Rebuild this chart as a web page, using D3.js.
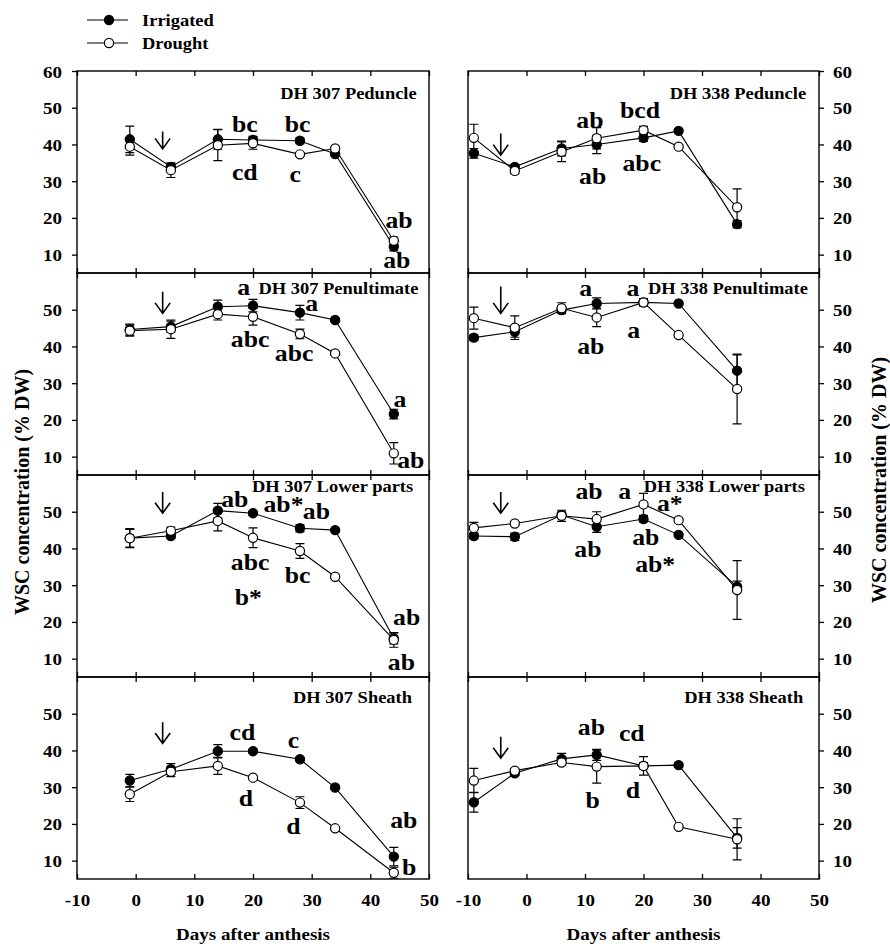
<!DOCTYPE html>
<html><head><meta charset="utf-8">
<script src="https://cdn.jsdelivr.net/npm/d3@7"></script>
<style>
html,body{margin:0;padding:0;background:#fff;}
svg{display:block;}
text{font-family:"Liberation Serif","Times New Roman",serif;font-weight:bold;fill:#000;}
</style></head>
<body><svg id="chart" width="890" height="946"></svg>
<script>
// ---------------- DATA ----------------
const days307 = [-1, 6, 14, 20, 28, 34, 44];
const days338 = [-9, -2, 6, 12, 20, 26, 36];
const xTicks = [-10, 0, 10, 20, 30, 40, 50];
const yTicksTop = [10, 20, 30, 40, 50, 60];
const yTicksOther = [10, 20, 30, 40, 50];
const seriesNames = ["Irrigated", "Drought"];
const panelTitles = ["DH 307 Peduncle", "DH 307 Penultimate", "DH 307 Lower parts", "DH 307 Sheath",
                     "DH 338 Peduncle", "DH 338 Penultimate", "DH 338 Lower parts", "DH 338 Sheath"];
const titleAnchors = [[47.9, 52.4], [48.2, 54.3], [47.3, 55.3], [47.1, 52.9],
                      [47.8, 52.4], [48.1, 54.3], [47.6, 55.3], [47.3, 52.9]];

// DH 307
const irr307Peduncle = [41.4, 33.9, 41.4, 41.2, 41.0, 37.4, 12.2];
const irr307PeduncleErr = [3.6, 0.8, 2.7, 1.0, 0.8, 0.5, 1.2];
const dro307Peduncle = [39.4, 33.0, 39.8, 40.3, 37.3, 38.9, 13.8];
const dro307PeduncleErr = [2.3, 2.0, 4.2, 1.6, 0.5, 0.5, 1.0];

const irr307Penult = [44.6, 45.4, 50.8, 51.1, 49.2, 47.2, 21.6];
const irr307PenultErr = [1.5, 1.5, 1.8, 1.7, 2.0, 0.5, 1.3];
const dro307Penult = [44.3, 44.7, 48.8, 48.1, 43.4, 38.1, 10.9];
const dro307PenultErr = [1.5, 2.5, 1.6, 2.3, 1.3, 0.5, 2.9];

const irr307Lower = [42.8, 43.4, 50.3, 49.6, 45.5, 45.0, 15.5];
const irr307LowerErr = [2.6, 0.7, 2.0, 0.5, 1.0, 0.5, 1.5];
const dro307Lower = [42.8, 44.8, 47.5, 42.9, 39.3, 32.3, 15.1];
const dro307LowerErr = [2.4, 1.0, 2.7, 2.7, 2.0, 0.5, 2.0];

const irr307Sheath = [31.8, 34.9, 39.8, 39.8, 37.6, 29.9, 11.1];
const irr307SheathErr = [1.7, 1.5, 1.8, 0.5, 0.5, 0.5, 2.5];
const dro307Sheath = [28.1, 34.2, 35.8, 32.6, 25.8, 18.8, 6.7];
const dro307SheathErr = [2.0, 1.3, 2.3, 0.5, 1.6, 0.5, 1.5];

// DH 338
const irr338Peduncle = [37.6, 33.9, 38.9, 40.0, 41.8, 43.7, 18.3];
const irr338PeduncleErr = [1.3, 0.5, 2.0, 2.5, 1.0, 0.5, 1.0];
const dro338Peduncle = [41.8, 32.8, 38.0, 41.7, 43.9, 39.4, 22.9];
const dro338PeduncleErr = [3.7, 0.8, 2.7, 2.9, 1.0, 0.5, 5.0];

const irr338Penult = [42.4, 44.0, 49.9, 51.7, 52.0, 51.7, 33.4];
const irr338PenultErr = [0.8, 1.5, 0.8, 1.5, 0.8, 0.5, 4.3];
const dro338Penult = [47.7, 45.1, 50.4, 47.9, 52.0, 43.1, 28.4];
const dro338PenultErr = [3.0, 3.2, 1.5, 2.5, 1.0, 0.5, 9.5];

const irr338Lower = [43.4, 43.2, 49.1, 45.9, 48.0, 43.7, 29.6];
const irr338LowerErr = [0.8, 1.0, 0.8, 1.5, 0.8, 0.5, 1.5];
const dro338Lower = [45.6, 46.8, 48.9, 48.0, 52.0, 47.7, 28.7];
const dro338LowerErr = [1.5, 0.5, 1.5, 2.0, 3.0, 0.5, 8.0];

const irr338Sheath = [25.9, 33.8, 37.7, 38.8, 35.8, 36.0, 16.2];
const irr338SheathErr = [2.7, 0.5, 1.5, 1.5, 0.8, 0.5, 2.8];
const dro338Sheath = [31.8, 34.5, 36.7, 35.6, 35.8, 19.2, 15.8];
const dro338SheathErr = [3.3, 0.5, 0.8, 4.5, 2.5, 0.5, 5.6];

// significance letters: [text, day, value(baseline)]
const letters307Peduncle = [["bc",18.6,43.5],["bc",27.6,43.5],["cd",18.6,30.3],["c",27.2,29.9],["ab",44.9,17.2],["ab",44.5,6.3]];
const letters307Penult = [["a",18.4,54.0],["a",30.0,49.6],["abc",19.5,39.9],["abc",27.0,36.0],["a",45.05,23.6],["ab",46.9,6.8]];
const letters307Lower = [["ab",16.9,51.4],["ab*",25.2,49.8],["ab",30.8,47.9],["abc",19.5,34.1],["bc",27.6,30.7],["b*",19.2,24.6],["ab",46.2,19.2],["ab",45.3,6.9]];
const letters307Sheath = [["cd",18.2,42.8],["c",26.9,40.6],["d",18.8,24.9],["d",26.9,17.3],["ab",45.7,18.8],["b",46.6,6.1]];
const letters338Peduncle = [["ab",10.85,44.4],["bcd",19.4,47.1],["ab",11.3,29.1],["abc",19.7,32.8]];
const letters338Penult = [["a",10.1,53.7],["a",18.2,53.7],["ab",11.0,37.9],["a",18.3,42.4]];
const letters338Lower = [["ab",10.7,53.4],["a",16.8,53.4],["a*",24.5,50.3],["ab",10.5,37.8],["ab",20.4,40.9],["ab*",22.0,33.7]];
const letters338Sheath = [["ab",11.1,44.2],["cd",18.0,42.6],["b",11.3,24.2],["d",18.2,27.0]];

// drought-onset arrows: [day, value top, value tip]
const arrows = [[4.6,43.5,38.8],[4.6,54.9,49.0],[4.6,55.4,49.6],[4.6,47.7,41.9],
                [-4.4,43.0,37.1],[-4.4,56.3,49.0],[-4.4,55.4,49.6],[-4.4,43.7,37.9]];

// ---------------- LAYOUT ----------------
const SX = 1.12;                 // horizontal glyph stretch of the original
const cols = [[77, 429], [468, 819]];
const tops = [71, 273, 475, 677];
const PH = 202;

const panels = [
  {col:0,row:0,days:days307,irr:irr307Peduncle,irrE:irr307PeduncleErr,dro:dro307Peduncle,droE:dro307PeduncleErr,letters:letters307Peduncle},
  {col:0,row:1,days:days307,irr:irr307Penult,irrE:irr307PenultErr,dro:dro307Penult,droE:dro307PenultErr,letters:letters307Penult},
  {col:0,row:2,days:days307,irr:irr307Lower,irrE:irr307LowerErr,dro:dro307Lower,droE:dro307LowerErr,letters:letters307Lower},
  {col:0,row:3,days:days307,irr:irr307Sheath,irrE:irr307SheathErr,dro:dro307Sheath,droE:dro307SheathErr,letters:letters307Sheath},
  {col:1,row:0,days:days338,irr:irr338Peduncle,irrE:irr338PeduncleErr,dro:dro338Peduncle,droE:dro338PeduncleErr,letters:letters338Peduncle},
  {col:1,row:1,days:days338,irr:irr338Penult,irrE:irr338PenultErr,dro:dro338Penult,droE:dro338PenultErr,letters:letters338Penult},
  {col:1,row:2,days:days338,irr:irr338Lower,irrE:irr338LowerErr,dro:dro338Lower,droE:dro338LowerErr,letters:letters338Lower},
  {col:1,row:3,days:days338,irr:irr338Sheath,irrE:irr338SheathErr,dro:dro338Sheath,droE:dro338SheathErr,letters:letters338Sheath}
];

const svg = d3.select("#chart");
const fmt = d => String(d);

function stext(g, x, y, str, size, anchor) {
  return g.append("text")
    .attr("transform", `translate(${x},${y}) scale(${SX},1)`)
    .attr("text-anchor", anchor || "start")
    .style("font-size", size + "px")
    .text(str);
}

panels.forEach((p, i) => {
  const [x0, x1] = cols[p.col];
  const top = tops[p.row];
  const x = d3.scaleLinear().domain([-10, 50]).range([x0, x1]);
  const y = d3.scaleLinear().domain([5, 60]).range([top + PH, top]);
  const g = svg.append("g");

  // inner x ticks top & bottom
  g.append("g").attr("transform", `translate(0,${top + PH})`)
    .call(d3.axisBottom(x).tickValues(xTicks).tickSize(-5).tickFormat(""))
    .call(a => a.select(".domain").remove());
  g.append("g").attr("transform", `translate(0,${top})`)
    .call(d3.axisTop(x).tickValues(xTicks).tickSize(-5).tickFormat(""))
    .call(a => a.select(".domain").remove());

  // y axis
  const yt = p.row === 0 ? yTicksTop : yTicksOther;
  if (p.col === 0) {
    const ax = g.append("g").attr("transform", `translate(${x0},0)`)
      .call(d3.axisLeft(y).tickValues(yt).tickSize(5).tickFormat(fmt));
    ax.select(".domain").remove();
    ax.selectAll("text").attr("x", null).attr("dy", null)
      .attr("transform", `translate(-15,6)scale(${SX},1)`)
      .style("font-size", "17px").attr("text-anchor", "end");
  } else {
    const ax = g.append("g").attr("transform", `translate(${x1},0)`)
      .call(d3.axisRight(y).tickValues(yt).tickSize(5).tickFormat(fmt));
    ax.select(".domain").remove();
    ax.selectAll("text").attr("x", null).attr("dy", null)
      .attr("transform", `translate(14,6)scale(${SX},1)`)
      .style("font-size", "17px").attr("text-anchor", "start");
  }
  g.selectAll(".tick line").attr("stroke", "#000").attr("stroke-width", 1.3);

  // bottom labels
  if (p.row === 3) {
    const ax = g.append("g").attr("transform", `translate(0,${top + PH})`)
      .call(d3.axisBottom(x).tickValues(xTicks).tickSize(0).tickFormat(fmt));
    ax.select(".domain").remove();
    ax.selectAll("text").attr("y", null).attr("dy", null)
      .attr("transform", `translate(0,27)scale(${SX},1)`)
      .style("font-size", "17px");
  }

  // frame
  g.append("rect").attr("x", x0).attr("y", top).attr("width", x1 - x0).attr("height", PH)
    .attr("fill", "none").attr("stroke", "#000").attr("stroke-width", 1.4);

  // title
  stext(g, x(titleAnchors[i][0]), y(titleAnchors[i][1]), panelTitles[i], 16.5, "end");

  // arrow
  const ar = arrows[i];
  const ax_ = x(ar[0]), ay0 = y(ar[1]), ay1 = y(ar[2]);
  g.append("path")
    .attr("d", `M${ax_},${ay0}L${ax_},${ay1}M${ax_ - 7.5},${ay1 - 10.5}L${ax_},${ay1}L${ax_ + 7.5},${ay1 - 10.5}`)
    .attr("fill", "none").attr("stroke", "#000").attr("stroke-width", 1.6);

  // series
  const series = [
    {vals: p.irr, err: p.irrE, fill: "#000"},
    {vals: p.dro, err: p.droE, fill: "#fff"}
  ];
  const line = d3.line().x((d) => x(d[0])).y((d) => y(d[1]));
  series.forEach(s => {
    const pts = p.days.map((d, k) => [d, s.vals[k], s.err[k]]);
    g.append("path").datum(pts).attr("d", line)
      .attr("fill", "none").attr("stroke", "#000").attr("stroke-width", 1.1);
    const eb = g.append("g");
    pts.forEach(d => {
      const cx = x(d[0]), ya = y(d[1] + d[2]), yb = y(d[1] - d[2]);
      eb.append("path")
        .attr("d", `M${cx},${ya}L${cx},${yb}M${cx - 4.5},${ya}L${cx + 4.5},${ya}M${cx - 4.5},${yb}L${cx + 4.5},${yb}`)
        .attr("fill", "none").attr("stroke", "#000").attr("stroke-width", 1.2);
    });
    g.append("g").selectAll("circle").data(pts).join("circle")
      .attr("cx", d => x(d[0])).attr("cy", d => y(d[1])).attr("r", 4.6)
      .attr("fill", s.fill).attr("stroke", "#000").attr("stroke-width", 1.2);
  });

  // letters
  p.letters.forEach(l => stext(g, x(l[1]), y(l[2]), l[0], 23, "middle"));

  // x-axis title
  if (p.row === 3) {
    stext(g, (x0 + x1) / 2, 940, "Days after anthesis", 17, "middle");
  }
});

// y titles
svg.append("text").attr("transform", "translate(29,492) rotate(-90)")
  .attr("text-anchor", "middle").style("font-size", "20px").text("WSC concentration (% DW)");
svg.append("text").attr("transform", "translate(886,480) rotate(-90)")
  .attr("text-anchor", "middle").style("font-size", "20px").text("WSC concentration (% DW)");

// legend
const leg = svg.append("g");
const legY = d3.scalePoint().domain(seriesNames).range([20, 43]);
const legFill = ["#000", "#fff"];
seriesNames.forEach((n, k) => {
  const yy = legY(n);
  leg.append("line").attr("x1", 87).attr("x2", 128).attr("y1", yy).attr("y2", yy)
    .attr("stroke", "#000").attr("stroke-width", 1.2);
  leg.append("circle").attr("cx", 109).attr("cy", yy).attr("r", 4.6)
    .attr("fill", legFill[k]).attr("stroke", "#000").attr("stroke-width", 1.2);
  stext(leg, 142, yy + 6, n, 16.5, "start");
});
</script></body></html>
